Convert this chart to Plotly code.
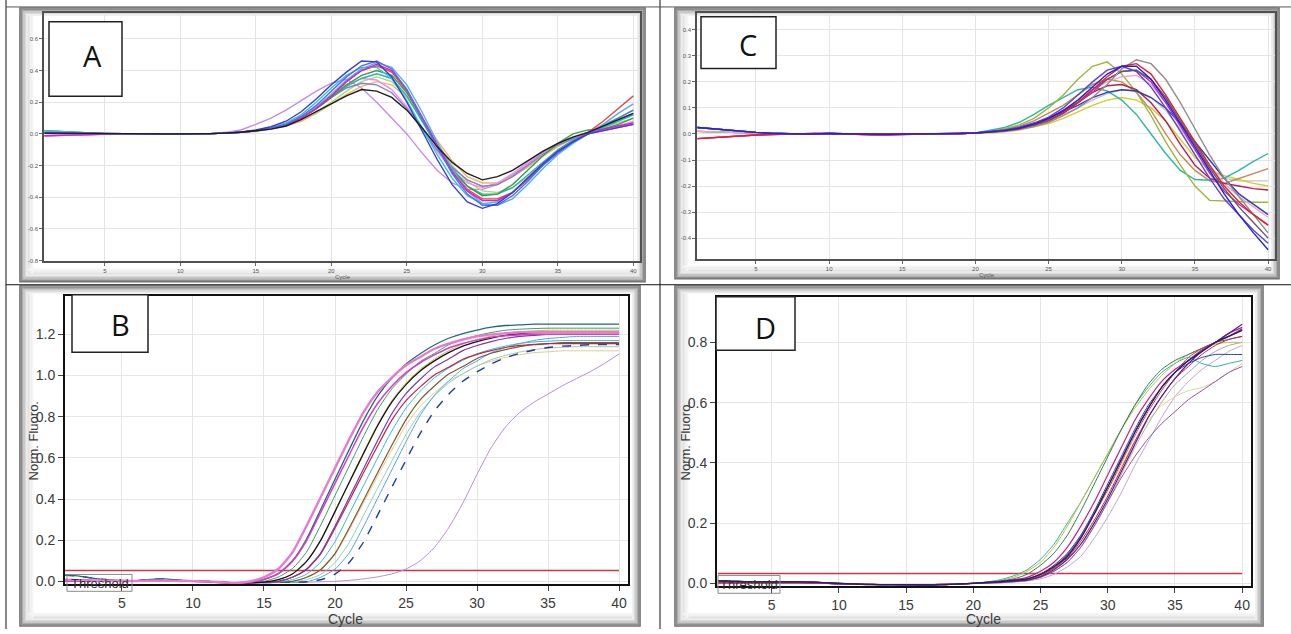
import plotly.graph_objects as go

W, H = 1291, 634
FONT = "Liberation Sans, Arial, sans-serif"

CYCLES = list(range(1, 41))
X_TICKS = [5, 10, 15, 20, 25, 30, 35, 40]

# ---------------- Panel A (derivative curves) ----------------
A_BASE_HI = [0.02, 0.015, 0.01, 0.005, 0.002, 0, 0, 0, 0, 0, 0, 0.002]
A_BASE_MID = [0.005, 0.004, 0.003, 0.001, 0, 0, 0, 0, 0, 0, 0, 0.002]
A_BASE_LO = [-0.012, -0.009, -0.006, -0.003, -0.001, 0, 0, 0, 0, 0, 0, 0.002]

A_DARKBLUE = A_BASE_MID + [0.005, 0.012, 0.025, 0.045, 0.08, 0.14, 0.22, 0.31, 0.39, 0.46, 0.455, 0.36, 0.2, 0.02, -0.16, -0.32, -0.43, -0.47, -0.44, -0.37, -0.28, -0.19, -0.11, -0.05, 0.0, 0.02, 0.04, 0.06]
A_BLUE = A_BASE_MID + [0.005, 0.01, 0.02, 0.035, 0.06, 0.11, 0.18, 0.27, 0.36, 0.43, 0.46, 0.41, 0.28, 0.1, -0.08, -0.25, -0.38, -0.45, -0.45, -0.39, -0.3, -0.2, -0.12, -0.05, 0.0, 0.05, 0.1, 0.15]
A_SKY = A_BASE_HI + [0.005, 0.01, 0.02, 0.035, 0.06, 0.1, 0.17, 0.25, 0.34, 0.41, 0.45, 0.42, 0.31, 0.14, -0.05, -0.22, -0.36, -0.44, -0.45, -0.41, -0.32, -0.22, -0.13, -0.06, 0.0, 0.06, 0.13, 0.19]
A_MAGENTA = A_BASE_LO + [0.005, 0.01, 0.02, 0.035, 0.06, 0.1, 0.16, 0.24, 0.33, 0.4, 0.44, 0.4, 0.28, 0.11, -0.07, -0.24, -0.36, -0.42, -0.42, -0.37, -0.28, -0.19, -0.11, -0.05, 0.0, 0.03, 0.05, 0.07]
A_RED = A_BASE_MID + [0.005, 0.01, 0.02, 0.035, 0.06, 0.1, 0.16, 0.24, 0.33, 0.4, 0.43, 0.39, 0.27, 0.1, -0.07, -0.23, -0.35, -0.41, -0.41, -0.37, -0.29, -0.2, -0.12, -0.05, 0.01, 0.08, 0.16, 0.24]
A_GREEN = A_BASE_HI + [0.005, 0.01, 0.02, 0.035, 0.06, 0.1, 0.16, 0.23, 0.31, 0.37, 0.4, 0.37, 0.26, 0.1, -0.07, -0.22, -0.33, -0.39, -0.38, -0.32, -0.23, -0.14, -0.06, 0.0, 0.025, 0.03, 0.06, 0.1]
A_TEAL = A_BASE_HI + [0.005, 0.01, 0.02, 0.035, 0.06, 0.1, 0.16, 0.23, 0.3, 0.35, 0.38, 0.35, 0.24, 0.08, -0.08, -0.22, -0.33, -0.38, -0.38, -0.34, -0.26, -0.18, -0.1, -0.04, 0.0, 0.04, 0.08, 0.12]
A_LIGHTGREEN = A_BASE_MID + [0.005, 0.01, 0.02, 0.03, 0.05, 0.09, 0.14, 0.2, 0.27, 0.33, 0.36, 0.33, 0.24, 0.09, -0.06, -0.2, -0.3, -0.36, -0.37, -0.34, -0.27, -0.18, -0.1, -0.04, 0.0, 0.04, 0.07, 0.1]
A_PINK = A_BASE_LO + [0.005, 0.01, 0.02, 0.035, 0.06, 0.1, 0.17, 0.24, 0.31, 0.35, 0.34, 0.28, 0.17, 0.03, -0.11, -0.23, -0.31, -0.34, -0.31, -0.25, -0.18, -0.11, -0.06, -0.02, 0.01, 0.03, 0.05, 0.08]
A_ORANGE = A_BASE_MID + [0.005, 0.01, 0.015, 0.03, 0.05, 0.08, 0.13, 0.19, 0.25, 0.3, 0.33, 0.31, 0.23, 0.1, -0.04, -0.17, -0.27, -0.31, -0.31, -0.27, -0.21, -0.14, -0.08, -0.03, 0.01, 0.06, 0.1, 0.15]
A_GRAYVIOLET = A_BASE_MID + [0.005, 0.01, 0.02, 0.035, 0.06, 0.1, 0.16, 0.23, 0.29, 0.32, 0.31, 0.26, 0.16, 0.03, -0.1, -0.21, -0.29, -0.33, -0.32, -0.27, -0.2, -0.13, -0.07, -0.03, 0.0, 0.02, 0.04, 0.06]
A_BLACK = A_BASE_MID + [0.005, 0.01, 0.02, 0.03, 0.05, 0.09, 0.14, 0.19, 0.24, 0.28, 0.27, 0.23, 0.15, 0.04, -0.08, -0.18, -0.25, -0.29, -0.27, -0.23, -0.17, -0.11, -0.06, -0.02, 0.01, 0.05, 0.09, 0.13]
A_VIOLET = A_BASE_LO + [0.01, 0.025, 0.06, 0.1, 0.15, 0.21, 0.27, 0.32, 0.345, 0.29, 0.2, 0.1, 0.0, -0.12, -0.23, -0.31, -0.35, -0.35, -0.32, -0.26, -0.19, -0.12, -0.06, -0.02, 0.01, 0.03, 0.05, 0.07]
A_CYAN = A_BASE_LO + [0.005, 0.01, 0.02, 0.04, 0.07, 0.12, 0.2, 0.29, 0.37, 0.42, 0.42, 0.35, 0.21, 0.04, -0.13, -0.28, -0.39, -0.44, -0.43, -0.37, -0.28, -0.19, -0.11, -0.05, 0.0, 0.05, 0.09, 0.13]

A_YTICKS = [-0.8, -0.6, -0.4, -0.2, 0.0, 0.2, 0.4, 0.6]
A_YTICKTEXT = ["-0.8", "-0.6", "-0.4", "-0.2", "0.0", "0.2", "0.4", "0.6"]

# ---------------- Panel C (derivative curves) ----------------
C_BASE_HI = [0.025, 0.02, 0.015, 0.01, 0.006, 0.003, 0.001, 0, 0, 0.002, 0.001, 0, -0.002, -0.001, 0, 0, 0, 0, 0.002, 0.004]
C_BASE_MID = [0.01, 0.008, 0.006, 0.004, 0.002, 0.001, 0, 0, 0.001, 0.002, 0.001, 0, -0.001, -0.002, 0, 0, 0, 0.001, 0.002, 0.004]
C_BASE_LO = [-0.018, -0.014, -0.01, -0.007, -0.004, -0.002, 0, 0.001, 0.002, 0.002, 0, -0.001, -0.003, -0.003, -0.002, -0.001, 0, 0.001, 0.002, 0.004]

C_GRAY = C_BASE_HI + [0.006, 0.01, 0.018, 0.028, 0.045, 0.07, 0.1, 0.14, 0.19, 0.25, 0.285, 0.27, 0.21, 0.12, 0.02, -0.08, -0.17, -0.24, -0.31, -0.38]
C_RED = C_BASE_LO + [0.006, 0.012, 0.02, 0.035, 0.055, 0.08, 0.12, 0.17, 0.22, 0.26, 0.27, 0.23, 0.15, 0.06, -0.03, -0.12, -0.2, -0.26, -0.31, -0.35]
C_BLUE = C_BASE_HI + [0.008, 0.013, 0.022, 0.038, 0.06, 0.09, 0.13, 0.18, 0.23, 0.26, 0.26, 0.21, 0.13, 0.04, -0.05, -0.14, -0.23, -0.31, -0.38, -0.445]
C_OLIVE = C_BASE_MID + [0.01, 0.02, 0.035, 0.06, 0.1, 0.15, 0.21, 0.26, 0.277, 0.23, 0.16, 0.07, -0.03, -0.12, -0.2, -0.255, -0.258, -0.26, -0.262, -0.262]
C_TEAL = C_BASE_MID + [0.015, 0.025, 0.045, 0.075, 0.11, 0.14, 0.17, 0.18, 0.165, 0.13, 0.075, 0.0, -0.075, -0.14, -0.175, -0.178, -0.17, -0.14, -0.105, -0.075]
C_BROWN = C_BASE_MID + [0.01, 0.018, 0.03, 0.05, 0.08, 0.11, 0.15, 0.19, 0.21, 0.2, 0.16, 0.09, 0.0, -0.08, -0.14, -0.18, -0.19, -0.17, -0.15, -0.133]
C_YELLOW = C_BASE_MID + [0.004, 0.008, 0.015, 0.027, 0.04, 0.06, 0.085, 0.11, 0.13, 0.14, 0.13, 0.1, 0.05, -0.02, -0.09, -0.14, -0.16, -0.175, -0.19, -0.2]
C_CRIMSON = C_BASE_LO + [0.008, 0.014, 0.024, 0.04, 0.06, 0.09, 0.12, 0.16, 0.185, 0.19, 0.17, 0.12, 0.05, -0.04, -0.12, -0.17, -0.19, -0.2, -0.21, -0.215]
C_NAVY = C_BASE_HI + [0.008, 0.014, 0.024, 0.04, 0.06, 0.085, 0.11, 0.14, 0.16, 0.17, 0.165, 0.14, 0.1, 0.04, -0.03, -0.1, -0.17, -0.23, -0.27, -0.31]
C_PINK = C_BASE_MID + [0.008, 0.014, 0.024, 0.04, 0.06, 0.09, 0.13, 0.17, 0.2, 0.22, 0.225, 0.19, 0.12, 0.04, -0.04, -0.12, -0.19, -0.24, -0.28, -0.32]
C_LIGHTGRAY = C_BASE_HI + [0.007, 0.012, 0.02, 0.033, 0.05, 0.075, 0.1, 0.13, 0.155, 0.17, 0.165, 0.14, 0.09, 0.02, -0.06, -0.13, -0.17, -0.18, -0.18, -0.18]
C_MAGENTA = C_BASE_LO + [0.007, 0.012, 0.02, 0.033, 0.05, 0.08, 0.12, 0.16, 0.21, 0.24, 0.245, 0.2, 0.12, 0.03, -0.06, -0.15, -0.22, -0.27, -0.31, -0.35]
C_VIOLETBLUE = C_BASE_HI + [0.009, 0.015, 0.026, 0.042, 0.065, 0.1, 0.15, 0.2, 0.245, 0.26, 0.24, 0.18, 0.1, 0.01, -0.08, -0.17, -0.25, -0.31, -0.37, -0.42]
C_DARKGRAY = C_BASE_HI + [0.007, 0.012, 0.02, 0.033, 0.05, 0.08, 0.12, 0.17, 0.21, 0.24, 0.245, 0.21, 0.14, 0.05, -0.04, -0.13, -0.21, -0.28, -0.34, -0.4]

C_YTICKS = [-0.4, -0.3, -0.2, -0.1, 0.0, 0.1, 0.2, 0.3, 0.4]
C_YTICKTEXT = ["-0.4", "-0.3", "-0.2", "-0.1", "0.0", "0.1", "0.2", "0.3", "0.4"]

# ---------------- Panel B (amplification curves) ----------------
B_BASE_HI = [0.03, 0.025, 0.015, 0.008, 0.004, 0.003, 0.01, 0.012, 0.006, 0.003, 0.0, -0.004]
B_BASE_MID = [0.008, 0.006, 0.004, 0.003, 0.002, 0.002, 0.003, 0.003, 0.002, 0.001, 0.0, -0.004]
B_BASE_LO = [0.0, 0.0, 0.0, 0.0, 0.0, 0.0, 0.0, 0.0, 0.0, 0.0, -0.002, -0.006]

B_PINK = B_BASE_MID + [-0.008, 0.0, 0.02, 0.06, 0.14, 0.27, 0.41, 0.55, 0.69, 0.82, 0.92, 0.99, 1.05, 1.09, 1.13, 1.155, 1.175, 1.19, 1.2, 1.205, 1.21, 1.21, 1.21, 1.21, 1.21, 1.21, 1.21, 1.21]
B_MAGENTA = B_BASE_LO + [-0.008, -0.004, 0.01, 0.036, 0.096, 0.198, 0.336, 0.476, 0.614, 0.75, 0.864, 0.948, 1.014, 1.062, 1.1, 1.134, 1.156, 1.172, 1.186, 1.193, 1.197, 1.2, 1.2, 1.2, 1.2, 1.2, 1.2, 1.2]
B_DARKTEAL = B_BASE_HI + [-0.006, -0.003, 0.009, 0.038, 0.1, 0.206, 0.35, 0.496, 0.64, 0.781, 0.9, 0.988, 1.056, 1.106, 1.148, 1.181, 1.204, 1.221, 1.235, 1.243, 1.246, 1.25, 1.25, 1.25, 1.25, 1.25, 1.25, 1.25]
B_BLACK = B_BASE_MID + [-0.008, -0.006, -0.004, 0.008, 0.036, 0.097, 0.2, 0.339, 0.48, 0.62, 0.756, 0.871, 0.956, 1.022, 1.071, 1.111, 1.143, 1.165, 1.182, 1.195, 1.203, 1.207, 1.21, 1.21, 1.21, 1.21, 1.21, 1.21]
B_GREEN = B_BASE_MID + [-0.008, -0.005, 0.0, 0.021, 0.062, 0.143, 0.274, 0.417, 0.56, 0.703, 0.834, 0.935, 1.006, 1.068, 1.107, 1.149, 1.175, 1.194, 1.209, 1.22, 1.225, 1.228, 1.23, 1.23, 1.23, 1.23, 1.23, 1.23]
B_PURPLE = B_BASE_LO + [-0.008, -0.006, -0.005, 0.0, 0.02, 0.06, 0.139, 0.268, 0.407, 0.546, 0.684, 0.814, 0.912, 0.982, 1.042, 1.08, 1.121, 1.146, 1.165, 1.18, 1.19, 1.195, 1.2, 1.2, 1.2, 1.2, 1.2, 1.2]
B_CRIMSON = B_BASE_MID + [-0.008, -0.006, -0.005, 0.0, 0.02, 0.058, 0.134, 0.258, 0.392, 0.526, 0.658, 0.783, 0.878, 0.945, 1.003, 1.04, 1.079, 1.103, 1.121, 1.136, 1.146, 1.15, 1.155, 1.155, 1.155, 1.155, 1.155, 1.155]
B_YELLOWGREEN = B_BASE_LO + [-0.008, -0.006, -0.004, 0.008, 0.037, 0.098, 0.201, 0.342, 0.484, 0.625, 0.763, 0.878, 0.964, 1.03, 1.08, 1.12, 1.153, 1.175, 1.192, 1.205, 1.213, 1.217, 1.22, 1.22, 1.22, 1.22, 1.22, 1.22]
B_CYAN = B_BASE_MID + [-0.008, -0.006, -0.005, -0.003, 0.008, 0.035, 0.094, 0.193, 0.328, 0.464, 0.599, 0.731, 0.842, 0.924, 0.989, 1.036, 1.074, 1.106, 1.127, 1.143, 1.156, 1.163, 1.167, 1.17, 1.17, 1.17, 1.17, 1.17]
B_BROWN = B_BASE_MID + [-0.008, -0.006, -0.005, -0.004, 0.0, 0.02, 0.058, 0.135, 0.259, 0.393, 0.528, 0.661, 0.786, 0.882, 0.949, 1.007, 1.044, 1.083, 1.108, 1.126, 1.14, 1.151, 1.155, 1.16, 1.16, 1.16, 1.16, 1.16]
B_LIGHTTEAL = B_BASE_LO + [-0.008, -0.006, -0.005, -0.004, -0.002, 0.008, 0.034, 0.091, 0.188, 0.319, 0.453, 0.584, 0.713, 0.821, 0.901, 0.963, 1.009, 1.046, 1.077, 1.098, 1.114, 1.126, 1.133, 1.137, 1.14, 1.14, 1.14, 1.14]
B_NAVY = B_BASE_HI + [-0.008, -0.007, -0.006, -0.005, -0.004, -0.002, 0.008, 0.035, 0.092, 0.19, 0.322, 0.457, 0.589, 0.719, 0.828, 0.909, 0.972, 1.018, 1.056, 1.086, 1.107, 1.124, 1.136, 1.143, 1.146, 1.15, 1.15, 1.15]
B_SKY = B_BASE_MID + [-0.008, -0.007, -0.006, -0.005, -0.004, -0.002, 0.02, 0.06, 0.138, 0.265, 0.403, 0.541, 0.678, 0.807, 0.904, 0.973, 1.033, 1.071, 1.111, 1.136, 1.155, 1.17, 1.18, 1.185, 1.19, 1.19, 1.19, 1.19]
B_LIGHTORANGE = B_BASE_LO + [-0.008, -0.006, -0.005, -0.004, -0.002, 0.019, 0.056, 0.13, 0.25, 0.38, 0.51, 0.638, 0.759, 0.851, 0.916, 0.972, 1.008, 1.046, 1.07, 1.088, 1.101, 1.111, 1.115, 1.12, 1.12, 1.12, 1.12, 1.12]
B_LATEVIOLET = [0.0, 0.0, 0.0, 0.0, 0.0, 0.0, 0.0, 0.0, 0.0, 0.0, -0.002, -0.006, -0.008, -0.008, -0.007, -0.006, -0.005, -0.004, -0.002, 0.0, 0.005, 0.012, 0.022, 0.036, 0.06, 0.1, 0.165, 0.26, 0.38, 0.52, 0.65, 0.75, 0.82, 0.87, 0.91, 0.95, 0.985, 1.02, 1.06, 1.105]

B_YTICKS = [0.0, 0.2, 0.4, 0.6, 0.8, 1.0, 1.2]
B_THRESHOLD = 0.053

# ---------------- Panel D (amplification curves) ----------------
D_BASE_A = [0.008, 0.007, 0.006, 0.006, 0.005, 0.005, 0.005, 0.004, 0.002, 0.0, -0.002, -0.003, -0.004, -0.004, -0.004, -0.005, -0.005, -0.004, -0.002, 0.0]
D_BASE_B = [0.002, 0.002, 0.002, 0.002, 0.002, 0.002, 0.002, 0.001, 0.0, -0.002, -0.003, -0.004, -0.004, -0.004, -0.005, -0.005, -0.004, -0.003, -0.002, 0.0]

D_TEAL = D_BASE_B + [0.005, 0.012, 0.025, 0.045, 0.08, 0.13, 0.2, 0.27, 0.35, 0.43, 0.51, 0.59, 0.65, 0.7, 0.73, 0.75, 0.73, 0.72, 0.73, 0.74]
D_OLIVE = D_BASE_B + [0.004, 0.01, 0.02, 0.04, 0.07, 0.12, 0.19, 0.27, 0.35, 0.43, 0.51, 0.58, 0.64, 0.69, 0.73, 0.76, 0.78, 0.795, 0.8, 0.8]
D_PALEYELLOW = D_BASE_B + [0.002, 0.005, 0.01, 0.02, 0.035, 0.06, 0.1, 0.16, 0.23, 0.31, 0.39, 0.47, 0.54, 0.59, 0.62, 0.64, 0.65, 0.67, 0.7, 0.73]
D_PURPLE = D_BASE_A + [0.0, 0.002, 0.005, 0.012, 0.02, 0.04, 0.07, 0.12, 0.19, 0.27, 0.35, 0.42, 0.48, 0.53, 0.57, 0.61, 0.64, 0.67, 0.7, 0.72]
D_NAVY = D_BASE_A + [0.003, 0.006, 0.01, 0.015, 0.03, 0.055, 0.09, 0.15, 0.23, 0.32, 0.41, 0.5, 0.58, 0.65, 0.7, 0.74, 0.77, 0.8, 0.82, 0.84]
D_MAGENTA = D_BASE_B + [0.003, 0.007, 0.012, 0.02, 0.04, 0.07, 0.12, 0.19, 0.27, 0.36, 0.45, 0.54, 0.61, 0.67, 0.71, 0.74, 0.77, 0.8, 0.83, 0.85]
D_CRIMSON = D_BASE_B + [0.002, 0.005, 0.008, 0.012, 0.025, 0.05, 0.085, 0.14, 0.21, 0.29, 0.38, 0.47, 0.55, 0.62, 0.68, 0.72, 0.76, 0.79, 0.81, 0.82]
D_DARKPURPLE = D_BASE_A + [0.002, 0.004, 0.007, 0.01, 0.022, 0.045, 0.08, 0.13, 0.2, 0.28, 0.37, 0.46, 0.55, 0.62, 0.68, 0.73, 0.77, 0.8, 0.83, 0.86]
D_GREEN = D_BASE_B + [0.004, 0.008, 0.015, 0.03, 0.06, 0.1, 0.16, 0.24, 0.33, 0.42, 0.51, 0.59, 0.66, 0.71, 0.74, 0.76, 0.78, 0.8, 0.81, 0.82]
D_LAVENDER = D_BASE_B + [0.0, 0.002, 0.004, 0.008, 0.015, 0.03, 0.055, 0.09, 0.15, 0.22, 0.3, 0.39, 0.47, 0.55, 0.62, 0.67, 0.71, 0.74, 0.77, 0.79]
D_BLUE = D_BASE_A + [0.003, 0.007, 0.012, 0.015, 0.03, 0.06, 0.1, 0.16, 0.24, 0.33, 0.42, 0.51, 0.59, 0.65, 0.7, 0.73, 0.75, 0.76, 0.76, 0.76]
D_RED = D_BASE_B + [0.002, 0.005, 0.008, 0.012, 0.028, 0.05, 0.09, 0.15, 0.23, 0.31, 0.4, 0.49, 0.57, 0.64, 0.7, 0.75, 0.78, 0.8, 0.82, 0.84]
D_GRAY = D_BASE_B + [0.002, 0.004, 0.007, 0.01, 0.02, 0.04, 0.07, 0.12, 0.19, 0.27, 0.36, 0.45, 0.53, 0.6, 0.66, 0.7, 0.74, 0.77, 0.79, 0.8]
D_VIOLET = D_BASE_A + [0.002, 0.005, 0.009, 0.014, 0.03, 0.055, 0.095, 0.155, 0.235, 0.32, 0.41, 0.5, 0.58, 0.65, 0.7, 0.74, 0.775, 0.8, 0.82, 0.845]

D_YTICKS = [0.0, 0.2, 0.4, 0.6, 0.8]
D_THRESHOLD = 0.033

THRESH_X = [CYCLES[0], CYCLES[-1]]

# ---------------- series styling ----------------
A_SERIES = [
    (A_VIOLET, "#c58de6"), (A_ORANGE, "#e8b964"), (A_LIGHTGREEN, "#a6d982"),
    (A_PINK, "#f28ee6"), (A_GRAYVIOLET, "#8a7bc8"), (A_TEAL, "#22b5b5"),
    (A_GREEN, "#3f9f3f"), (A_RED, "#e44a4a"), (A_SKY, "#55aee8"),
    (A_CYAN, "#2ec4e0"), (A_MAGENTA, "#e41cc4"), (A_BLUE, "#4f6ff2"),
    (A_DARKBLUE, "#3b3bd6"), (A_BLACK, "#1e1e1e"),
]
C_SERIES = [
    (C_LIGHTGRAY, "#c6c6c6"), (C_YELLOW, "#d6cd2e"), (C_BROWN, "#c28b52"),
    (C_TEAL, "#2fb6a6"), (C_OLIVE, "#9db63e"), (C_PINK, "#f0a2d6"),
    (C_CRIMSON, "#b81e52"), (C_NAVY, "#2e3eb2"), (C_MAGENTA, "#c22cba"),
    (C_DARKGRAY, "#5e5e5e"), (C_GRAY, "#8e8e8e"), (C_VIOLETBLUE, "#5a46d4"),
    (C_RED, "#e52222"), (C_BLUE, "#2020e8"),
]
B_SERIES = [
    (B_LATEVIOLET, "#b78ed0", 1.0, "solid"), (B_LIGHTORANGE, "#e9c98a", 1.0, "solid"),
    (B_LIGHTTEAL, "#8fd0b8", 1.0, "solid"), (B_SKY, "#4aa8e2", 1.0, "solid"),
    (B_NAVY, "#1e3c9e", 1.4, "dash"), (B_BROWN, "#7c5c2a", 1.2, "solid"),
    (B_CYAN, "#2bc0d0", 1.0, "solid"), (B_YELLOWGREEN, "#b9c142", 1.0, "solid"),
    (B_CRIMSON, "#c2224e", 1.2, "solid"), (B_PURPLE, "#7b3ba2", 1.2, "solid"),
    (B_GREEN, "#3d9d66", 1.0, "solid"), (B_BLACK, "#151515", 1.3, "solid"),
    (B_DARKTEAL, "#1f6b78", 1.3, "solid"), (B_MAGENTA, "#d93ccb", 1.5, "solid"),
    (B_PINK, "#e87ad0", 2.4, "solid"),
]
D_SERIES = [
    (D_LAVENDER, "#c2a2da", 1.0), (D_PALEYELLOW, "#ddd58e", 1.0), (D_GRAY, "#a8a8a8", 1.0),
    (D_PURPLE, "#9352a3", 1.0), (D_TEAL, "#2fb2a9", 1.0), (D_OLIVE, "#c3bd3f", 1.0),
    (D_GREEN, "#2f7f52", 1.0), (D_CRIMSON, "#c22242", 1.0), (D_RED, "#e23434", 1.0),
    (D_BLUE, "#2442c2", 1.0), (D_MAGENTA, "#c22292", 1.2), (D_VIOLET, "#7a3cb0", 1.2),
    (D_DARKPURPLE, "#5e1f80", 1.2), (D_NAVY, "#22225e", 1.2),
]


def PX(x):
    return x / W


def PY(y):
    return 1 - y / H


fig = go.Figure()

for vals, col in A_SERIES:
    fig.add_trace(go.Scatter(x=CYCLES, y=vals, mode="lines", xaxis="x", yaxis="y",
                             line=dict(color=col, width=1.4), hoverinfo="skip", showlegend=False))
for vals, col in C_SERIES:
    fig.add_trace(go.Scatter(x=CYCLES, y=vals, mode="lines", xaxis="x2", yaxis="y2",
                             line=dict(color=col, width=1.4), hoverinfo="skip", showlegend=False))
fig.add_trace(go.Scatter(x=THRESH_X, y=[B_THRESHOLD, B_THRESHOLD], mode="lines", xaxis="x3", yaxis="y3",
                         line=dict(color="#c8384c", width=1.5), hoverinfo="skip", showlegend=False))
for vals, col, wd, ds in B_SERIES:
    fig.add_trace(go.Scatter(x=CYCLES, y=vals, mode="lines", xaxis="x3", yaxis="y3",
                             line=dict(color=col, width=wd, dash=ds, shape="spline", smoothing=0.6),
                             hoverinfo="skip", showlegend=False))
fig.add_trace(go.Scatter(x=THRESH_X, y=[D_THRESHOLD, D_THRESHOLD], mode="lines", xaxis="x4", yaxis="y4",
                         line=dict(color="#c8384c", width=1.5), hoverinfo="skip", showlegend=False))
for vals, col, wd in D_SERIES:
    fig.add_trace(go.Scatter(x=CYCLES, y=vals, mode="lines", xaxis="x4", yaxis="y4",
                             line=dict(color=col, width=wd, shape="spline", smoothing=0.6),
                             hoverinfo="skip", showlegend=False))


def small_x(dom, rng, anchor):
    return dict(domain=dom, range=rng, anchor=anchor, tickvals=X_TICKS, ticks="outside", ticklen=3,
                tickcolor="#666", tickfont=dict(size=6, color="#555", family=FONT),
                showgrid=True, gridcolor="#e4e4e4", gridwidth=1, zeroline=False,
                showline=True, linecolor="#505050", linewidth=1.5, mirror=True)


def small_y(dom, rng, anchor, tv, tt):
    return dict(domain=dom, range=rng, anchor=anchor, tickvals=tv, ticktext=tt, ticks="outside", ticklen=3,
                tickcolor="#666", tickfont=dict(size=6, color="#555", family=FONT),
                showgrid=True, gridcolor="#e4e4e4", gridwidth=1, zeroline=False,
                showline=True, linecolor="#505050", linewidth=1.5, mirror=True)


def big_x(dom, rng, anchor):
    return dict(domain=dom, range=rng, anchor=anchor, tickvals=X_TICKS, ticks="outside", ticklen=5,
                tickcolor="#444", tickfont=dict(size=14, color="#3a3a3a", family=FONT),
                showgrid=True, gridcolor="#e6e6e6", gridwidth=1, zeroline=False,
                showline=True, linecolor="#111", linewidth=2, mirror=True)


def big_y(dom, rng, anchor, tv):
    return dict(domain=dom, range=rng, anchor=anchor, tickvals=tv, tickformat=".1f", ticks="outside", ticklen=5,
                tickcolor="#444", tickfont=dict(size=14, color="#3a3a3a", family=FONT),
                showgrid=True, gridcolor="#e6e6e6", gridwidth=1, zeroline=False,
                showline=True, linecolor="#111", linewidth=2, mirror=True)


shapes = []
annotations = []


def line(x0, y0, x1, y1, color="#000", width=1):
    shapes.append(dict(type="line", xref="paper", yref="paper", x0=PX(x0), y0=PY(y0), x1=PX(x1), y1=PY(y1),
                       line=dict(color=color, width=width), layer="below"))


def bevel(x0, y0, x1, y1):
    cols = ["#6e6e6e", "#8e8e8e", "#aaaaaa", "#c4c4c4", "#dadada", "#ebebeb"]
    for i, c in enumerate(cols):
        o = i * 1.4
        shapes.append(dict(type="rect", xref="paper", yref="paper",
                           x0=PX(x0 + o), y0=PY(y0 + o), x1=PX(x1 - o), y1=PY(y1 - o),
                           line=dict(color=c, width=1.6), fillcolor="rgba(0,0,0,0)", layer="below"))
    # softer, wider shadow on the left and bottom edges
    extra = ["#e2e2e2", "#e9e9e9", "#f0f0f0", "#f6f6f6"]
    for k, c in enumerate(extra):
        o = 8.4 + k * 1.4
        line(x0 + o, y0 + 8, x0 + o, y1 - 8, c, 1.6)
        line(x0 + 8, y1 - o, x1 - 8, y1 - o, c, 1.6)


def label_box(x0, y0, x1, y1, letter, lx, ly):
    shapes.append(dict(type="rect", xref="paper", yref="paper", x0=PX(x0), y0=PY(y0), x1=PX(x1), y1=PY(y1),
                       line=dict(color="#222", width=1.5), fillcolor="white", layer="above"))
    annotations.append(dict(xref="paper", yref="paper", x=PX(lx), y=PY(ly), text=letter, showarrow=False,
                            xanchor="center", yanchor="middle",
                            font=dict(size=29, color="#111", family="Open Sans, Liberation Sans, sans-serif")))


def text(x, y, s, size, color="#333", angle=0):
    annotations.append(dict(xref="paper", yref="paper", x=PX(x), y=PY(y), text=s, showarrow=False,
                            xanchor="center", yanchor="middle", textangle=angle,
                            font=dict(size=size, color=color, family=FONT)))


def thresh_box(x0, y0, x1, y1):
    shapes.append(dict(type="rect", xref="paper", yref="paper", x0=PX(x0), y0=PY(y0), x1=PX(x1), y1=PY(y1),
                       line=dict(color="#8a8a8a", width=1), fillcolor="rgba(0,0,0,0)", layer="above"))
    text((x0 + x1) / 2, (y0 + y1) / 2 + 0.5, "Threshold", 13, "#333")


# table grid lines
line(6, 0, 6, H, "#111", 1)
line(660, 0, 660, H, "#111", 1)
line(6, 287, W, 287, "#111", 1)
line(6, 7, W, 7, "#555", 1)

# panel frames
bevel(20, 8, 645, 284)
bevel(675, 8, 1279, 281)
bevel(20, 288, 640, 631)
bevel(675, 288, 1263, 631)

# label boxes
label_box(49, 22, 122, 97, "A", 92, 56)
label_box(701, 17, 776, 69, "C", 748, 45)
label_box(72, 297, 148, 355, "B", 120, 327)
label_box(716, 299, 795, 353, "D", 765, 330)

# axis titles
text(343, 279, "Cycle", 6, "#555")
text(987, 277, "Cycle", 6, "#555")
text(345, 624, "Cycle", 14, "#3a3a3a")
text(983, 624, "Cycle", 14, "#3a3a3a")
text(33, 445, "Norm. Fluoro.", 13, "#3a3a3a", -90)
text(685, 445, "Norm. Fluoro.", 13, "#3a3a3a", -90)

# threshold labels
thresh_box(67, 579, 132, 596)
thresh_box(718, 580, 780, 598)

fig.update_layout(
    width=W, height=H, margin=dict(l=0, r=0, t=0, b=0),
    paper_bgcolor="white", plot_bgcolor="white", showlegend=False,
    xaxis=small_x([PX(44), PX(640)], [0.97, 40.44], "y"),
    yaxis=small_y([PY(263), PY(13)], [-0.802, 0.764], "x", A_YTICKS, A_YTICKTEXT),
    xaxis2=small_x([PX(697), PX(1275)], [0.97, 40.47], "y2"),
    yaxis2=small_y([PY(261), PY(13)], [-0.48, 0.465], "x2", C_YTICKS, C_YTICKTEXT),
    xaxis3=big_x([PX(65), PX(628)], [0.99, 40.63], "y3"),
    yaxis3=big_y([PY(589), PY(298)], [-0.0145, 1.388], "x3", B_YTICKS),
    xaxis4=big_x([PX(717), PX(1251)], [0.93, 40.66], "y4"),
    yaxis4=big_y([PY(591), PY(299)], [-0.0099, 0.952], "x4", D_YTICKS),
    shapes=shapes, annotations=annotations,
)

fig.write_html("out.html", config={"displayModeBar": False},
               post_script="document.body.style.margin='0px';document.body.style.overflow='hidden';")
